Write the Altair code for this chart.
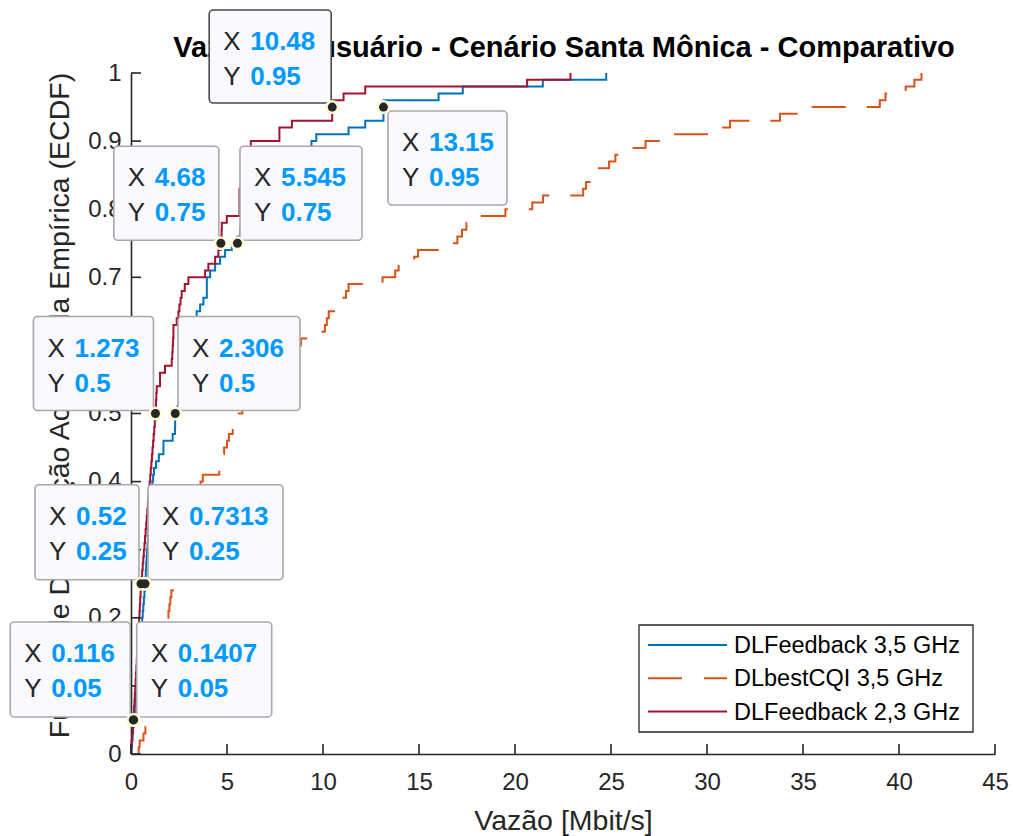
import altair as alt
import pandas as pd

# ---------------- data ----------------
series_names = ["DLFeedback 3,5 GHz", "DLbestCQI 3,5 GHz", "DLFeedback 2,3 GHz"]
series_colors = ["#0072BD", "#D95319", "#A2142F"]

# sorted throughput samples (Mbit/s), 100 users per scenario
blue_samples = [0.02, 0.05, 0.08, 0.11, 0.1407, 0.17, 0.20, 0.23, 0.26, 0.29,
                0.32, 0.35, 0.38, 0.41, 0.44, 0.47, 0.50, 0.52, 0.55, 0.58,
                0.61, 0.64, 0.67, 0.70, 0.7313, 0.75, 0.77, 0.79, 0.81, 0.83,
                0.86, 0.88, 0.91, 0.93, 0.96, 0.99, 1.02, 1.05, 1.08, 1.11,
                1.15, 1.20, 1.30, 1.45, 1.69, 1.69, 2.17, 2.29, 2.30, 2.306,
                2.40, 2.50, 2.60, 2.70, 2.80, 2.90, 3.00, 3.10, 3.20, 3.28,
                3.35, 3.40, 3.42, 3.42, 3.42, 3.60, 3.77, 3.95, 3.95, 3.95,
                4.12, 4.38, 4.64, 4.90, 5.25, 5.545, 5.68, 5.90, 6.10, 6.30,
                6.50, 6.80, 7.00, 7.30, 7.60, 7.90, 8.30, 8.70, 9.10, 9.40,
                9.65, 11.33, 12.20, 13.15, 13.15, 13.15, 16.02, 17.28, 21.45, 24.75]

orange_samples = [0.40, 0.45, 0.65, 0.75, 0.80, 0.85, 0.90, 0.95, 1.00, 1.05,
                  1.10, 1.15, 1.20, 1.30, 1.35, 1.45, 1.55, 1.65, 1.75, 1.85,
                  1.95, 2.00, 2.05, 2.10, 2.17, 2.25, 2.35, 2.45, 2.55, 2.65,
                  2.75, 2.85, 2.95, 3.05, 3.15, 3.25, 3.35, 3.45, 3.55, 3.62,
                  3.74, 4.60, 4.62, 4.75, 4.85, 5.00, 5.10, 5.30, 5.42, 5.60,
                  5.80, 6.00, 6.20, 6.50, 6.80, 7.10, 7.40, 7.80, 8.20, 8.60,
                  8.85, 9.90, 10.10, 10.20, 10.30, 10.64, 11.00, 11.20, 11.33, 13.10,
                  13.76, 13.94, 14.75, 14.95, 16.37, 17.00, 17.24, 17.47, 17.71, 19.50,
                  20.90, 21.46, 23.55, 23.70, 24.31, 24.31, 24.90, 25.23, 25.58, 26.80,
                  27.62, 30.29, 31.20, 33.80, 34.72, 39.00, 39.30, 40.35, 40.80, 41.17]

red_samples = [0.01, 0.03, 0.06, 0.09, 0.116, 0.14, 0.16, 0.18, 0.20, 0.22,
               0.24, 0.26, 0.28, 0.30, 0.32, 0.34, 0.36, 0.38, 0.40, 0.42,
               0.44, 0.46, 0.48, 0.50, 0.52, 0.55, 0.58, 0.61, 0.64, 0.67,
               0.70, 0.73, 0.76, 0.79, 0.82, 0.85, 0.88, 0.91, 0.94, 0.97,
               1.00, 1.03, 1.06, 1.09, 1.12, 1.15, 1.18, 1.21, 1.24, 1.273,
               1.28, 1.30, 1.32, 1.34, 1.51, 1.51, 1.77, 2.12, 2.15, 2.17,
               2.19, 2.21, 2.21, 2.38, 2.47, 2.52, 2.58, 2.64, 2.80, 2.99,
               3.86, 4.03, 4.38, 4.55, 4.68, 4.70, 4.72, 4.73, 4.99, 5.65,
               5.65, 5.65, 5.65, 5.75, 5.85, 5.95, 6.05, 6.10, 6.18, 6.24,
               7.73, 7.73, 8.38, 10.48, 10.48, 10.48, 11.07, 12.20, 20.63, 22.89]

x_ticks = [0, 5, 10, 15, 20, 25, 30, 35, 40, 45]
y_ticks = [0, 0.1, 0.2, 0.3, 0.4, 0.5, 0.6, 0.7, 0.8, 0.9, 1]

# data tips
tip_x = [10.48, 13.15, 4.68, 5.545, 1.273, 2.306, 0.52, 0.7313, 0.116, 0.1407]
tip_y = [0.95, 0.95, 0.75, 0.75, 0.5, 0.5, 0.25, 0.25, 0.05, 0.05]
tip_x_text = ["10.48", "13.15", "4.68", "5.545", "1.273", "2.306", "0.52", "0.7313", "0.116", "0.1407"]
tip_y_text = ["0.95", "0.95", "0.75", "0.75", "0.5", "0.5", "0.25", "0.25", "0.05", "0.05"]

# ---------------- layout (pixels) ----------------
W, H = 864, 681
XMAX = 45
XU = XMAX / W      # data units per pixel (x)
YU = 1.0 / H       # data units per pixel (y)
FONT = "Liberation Sans"
DARK = "#262626"

# box placement relative to each tip point: left, top, width, height (px), dark border
tip_box = [(-123, -97, 122, 93, True), (4.5, 4, 119, 94, False),
           (-107, -97, 105, 94, False), (2.5, -97, 122, 94, False),
           (-122, -97, 120, 94, False), (2.7, -97, 122, 94, False),
           (-106, -99, 104, 95, False), (3, -99, 135, 95, False),
           (-123, -98, 120, 95, False), (3, -98, 135, 95, False)]

# ---------------- build tables ----------------
rows = []
for name, samples in zip(series_names, [blue_samples, orange_samples, red_samples]):
    s = sorted(samples)
    n = len(s)
    rows.append({"series": name, "x": s[0], "y": 0.0, "idx": 0})
    for i, v in enumerate(s, start=1):
        rows.append({"series": name, "x": v, "y": i / n, "idx": i})
ecdf = pd.DataFrame(rows)

tips = []
for i in range(len(tip_x)):
    lo, to, bw, bh, dark = tip_box[i]
    x1 = tip_x[i] + lo * XU
    y1 = tip_y[i] - to * YU
    tips.append({"x": tip_x[i], "y": tip_y[i], "bx1": x1, "bx2": x1 + bw * XU,
                 "by1": y1, "by2": y1 - bh * YU, "xt": tip_x_text[i], "yt": tip_y_text[i],
                 "border": "#4a4a4a" if dark else "#a8a8a8"})
tips = pd.DataFrame(tips)

xscale = alt.Scale(domain=[0, XMAX], nice=False, zero=False)
yscale = alt.Scale(domain=[0, 1], nice=False, zero=False)

x_axis = alt.Axis(values=x_ticks, ticks=False, tickSize=0, grid=False, title="Vazão [Mbit/s]",
                  labelFontSize=24, labelFont=FONT, labelColor=DARK, labelPadding=16,
                  titleFontSize=28.5, titleFont=FONT, titleColor=DARK, titleFontWeight="normal",
                  titlePadding=12, domainColor=DARK, domainWidth=1.6, labelFlush=False)
y_axis = alt.Axis(values=y_ticks, ticks=False, tickSize=0, grid=False, format="~g",
                  title="Função de Distribuição Acumulada Empírica (ECDF)",
                  labelFontSize=24, labelFont=FONT, labelColor=DARK, labelPadding=10,
                  titleFontSize=28.5, titleFont=FONT, titleColor=DARK, titleFontWeight="normal",
                  titlePadding=13, titleY=332, domainColor=DARK, domainWidth=1.6, labelFlush=False)


def X(field):
    return alt.X(field, scale=xscale, axis=x_axis)


def Y(field):
    return alt.Y(field, scale=yscale, axis=y_axis)


lines = alt.Chart(ecdf).mark_line(interpolate="step-after", strokeWidth=2, strokeCap="butt").encode(
    x=X("x:Q"),
    y=Y("y:Q"),
    color=alt.Color("series:N", scale=alt.Scale(domain=series_names, range=series_colors), legend=None),
    strokeDash=alt.StrokeDash("series:N", scale=alt.Scale(domain=series_names,
                                                          range=[[1, 0], [34, 21], [1, 0]]), legend=None),
    order=alt.Order("idx:Q"),
)

xtick_rules = alt.Chart(pd.DataFrame({"x": x_ticks})).mark_rule(color=DARK, strokeWidth=1.6).encode(
    x=X("x:Q"), y=alt.value(H), y2=alt.value(H - 10))
ytick_rules = alt.Chart(pd.DataFrame({"y": y_ticks})).mark_rule(color=DARK, strokeWidth=1.6).encode(
    y=Y("y:Q"), x=alt.value(0), x2=alt.value(10))

one = pd.DataFrame({"a": [0]})
title = alt.Chart(one).mark_text(fontSize=29, fontWeight="bold", font=FONT, color="black",
                                 align="center", baseline="middle").encode(
    x=alt.value(W / 2 + 1), y=alt.value(-25),
    text=alt.value("Vazão por usuário - Cenário Santa Mônica - Comparativo"))

boxes = alt.Chart(tips).mark_rect(cornerRadius=4, fill="#f9f9fe", strokeWidth=1.6).encode(
    x=X("bx1:Q"), x2="bx2:Q",
    y=Y("by1:Q"), y2="by2:Q",
    stroke=alt.Stroke("border:N", scale=None))

lab_kw = dict(align="left", baseline="middle", fontSize=26, font=FONT)
x_lab = alt.Chart(tips).mark_text(dx=14, dy=32, color=DARK, **lab_kw).encode(
    x=X("bx1:Q"), y=Y("by1:Q"), text=alt.value("X"))
y_lab = alt.Chart(tips).mark_text(dx=14, dy=67, color=DARK, **lab_kw).encode(
    x=X("bx1:Q"), y=Y("by1:Q"), text=alt.value("Y"))
x_val = alt.Chart(tips).mark_text(dx=41, dy=32, color="#0099ff", fontWeight="bold", **lab_kw).encode(
    x=X("bx1:Q"), y=Y("by1:Q"), text="xt:N")
y_val = alt.Chart(tips).mark_text(dx=41, dy=67, color="#0099ff", fontWeight="bold", **lab_kw).encode(
    x=X("bx1:Q"), y=Y("by1:Q"), text="yt:N")

halo = alt.Chart(tips).mark_point(filled=True, shape="circle", size=200, color="#fffbd2", opacity=1).encode(
    x=X("x:Q"), y=Y("y:Q"))
dot = alt.Chart(tips).mark_point(filled=True, shape="circle", size=80, color=DARK, opacity=1).encode(
    x=X("x:Q"), y=Y("y:Q"))

# legend (drawn manually, MATLAB style)
LX0, LY0, LX1, LY1 = 508, 552, 842, 659
leg_box = alt.Chart(one).mark_rect(fill="white", stroke=DARK, strokeWidth=1.3).encode(
    x=alt.value(LX0), x2=alt.value(LX1), y=alt.value(LY0), y2=alt.value(LY1))
leg_layers = []
dashes = [[1, 0], [34, 22], [1, 0]]
for i, (name, col) in enumerate(zip(series_names, series_colors)):
    yy = 572 + i * 33.3
    leg_layers.append(alt.Chart(one).mark_rule(color=col, strokeWidth=2, strokeDash=dashes[i]).encode(
        x=alt.value(517), x2=alt.value(596), y=alt.value(yy)))
    leg_layers.append(alt.Chart(one).mark_text(align="left", baseline="middle", fontSize=23.5, font=FONT,
                                               color="black").encode(
        x=alt.value(603), y=alt.value(yy + 1), text=alt.value(name)))

chart = alt.layer(lines, xtick_rules, ytick_rules, title, boxes, x_lab, y_lab, x_val, y_val, halo, dot,
                  leg_box, *leg_layers).properties(
    width=W, height=H,
    autosize=alt.AutoSizeParams(type="none"),
    padding={"left": 131, "top": 73, "right": 18, "bottom": 82},
    background="white",
).configure_view(stroke=None)

chart.save("out.html", embed_options={"renderer": "svg", "actions": False})
